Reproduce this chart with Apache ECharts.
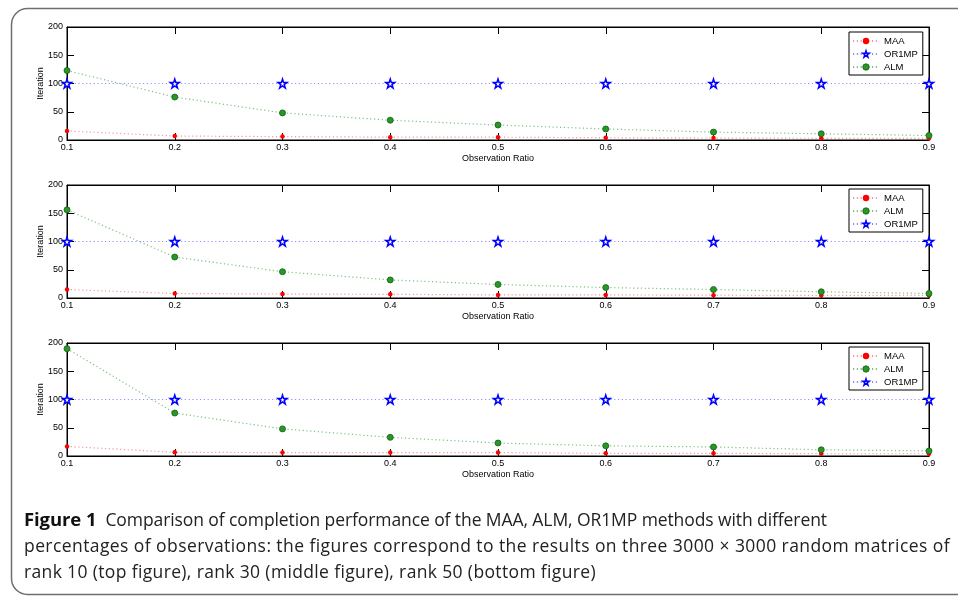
<!DOCTYPE html>
<html>
<head>
<meta charset="utf-8">
<script src="https://cdn.jsdelivr.net/npm/echarts@6/dist/echarts.min.js"></script>
<style>
  html, body { margin: 0; padding: 0; background: #fff; }
  #wrap { position: relative; width: 958px; height: 596px; overflow: hidden; }
  #chart { position: absolute; left: 0; top: 0; width: 958px; height: 596px; }
  #caption { position: absolute; left: 24px; top: 506px; font-family: "Open Sans", Lato, sans-serif;
             font-size: 17.5px; line-height: 26px; color: #222; white-space: nowrap;
             font-variant-ligatures: none; }
  #caption span { display: inline-block; }
  #caption b { font-weight: 700; color: #111; margin-right: 9px; font-size: 18.5px; }
</style>
</head>
<body>
<div id="wrap">
  <div id="chart"></div>
  <div id="caption"><span data-w="803"><b>Figure 1</b>Comparison of completion performance of the MAA, ALM, OR1MP methods with different</span><br><span data-w="926">percentages of observations: the figures correspond to the results on three 3000 × 3000 random matrices of</span><br><span data-w="572">rank 10 (top figure), rank 30 (middle figure), rank 50 (bottom figure)</span></div>
</div>
<script>
// ---- data ----
const ratios = ['0.1', '0.2', '0.3', '0.4', '0.5', '0.6', '0.7', '0.8', '0.9'];
const yTicks = [0, 50, 100, 150, 200];

// rank 10 (top)
const maa10 = [16, 7, 6, 5, 5, 4, 3.5, 3, 3];
const or1mp10 = [100, 100, 100, 100, 100, 100, 100, 100, 100];
const alm10 = [123, 76, 48, 35, 26.5, 19.5, 14, 11, 8];

// rank 30 (middle)
const maa30 = [15, 8, 7, 6.5, 5.5, 5.5, 5, 4.5, 4.5];
const alm30 = [156, 72.5, 46.5, 32, 24, 18.5, 15, 11, 8];
const or1mp30 = [100, 100, 100, 100, 100, 100, 100, 100, 100];

// rank 50 (bottom)
const maa50 = [17, 6.5, 6, 6, 6, 4.7, 4.7, 4, 4];
const alm50 = [190, 76, 48, 33, 23, 18, 16, 11, 9];
const or1mp50 = [100, 100, 100, 100, 100, 100, 100, 100, 100];

const legendOrders = [['MAA', 'OR1MP', 'ALM'], ['MAA', 'ALM', 'OR1MP'], ['MAA', 'ALM', 'OR1MP']];
const panels = [
  { maa: maa10, alm: alm10, or: or1mp10 },
  { maa: maa30, alm: alm30, or: or1mp30 },
  { maa: maa50, alm: alm50, or: or1mp50 }
];

// ---- caption fitting (keeps real text, only spacing adjusted) ----
document.querySelectorAll('#caption span').forEach(s => {
  const target = parseFloat(s.getAttribute('data-w'));
  const w = s.getBoundingClientRect().width;
  const n = s.textContent.length;
  if (n > 1) s.style.letterSpacing = ((target - w) / n).toFixed(3) + 'px';
});

// ---- layout / styles ----
const FONT = '"Liberation Sans", Arial, sans-serif';
const gridTops = [27, 185, 343];
const legendTops = [32, 189, 347];
const GRID_LEFT = 67, GRID_W = 862, GRID_H = 113;
const STAR = 'path://M50,2 L61.2,36.2 L97.6,36.2 L68.2,57.4 L79.4,91.6 L50,70.4 L20.6,91.6 L31.8,57.4 L2.4,36.2 L38.8,36.2 Z';

const chart = echarts.init(document.getElementById('chart'), null, { renderer: 'canvas' });

const styles = {
  MAA: { symbol: 'circle', symbolSize: 4.5, itemStyle: { color: '#ff0000' }, line: 'rgba(255,60,60,0.55)' },
  OR1MP: { symbol: STAR, symbolSize: 9, itemStyle: { color: '#ffffff', borderColor: '#0000ff', borderWidth: 1.5 }, line: 'rgba(70,70,255,0.6)' },
  ALM: { symbol: 'circle', symbolSize: 6, itemStyle: { color: '#2a962a', borderColor: '#0b630b', borderWidth: 0.8 }, line: 'rgba(40,150,40,0.6)' }
};

const grids = [], xAxes = [], yAxes = [], series = [], legends = [];
gridTops.forEach((top, i) => {
  grids.push({ left: GRID_LEFT, top: top, width: GRID_W, height: GRID_H, show: true,
               borderColor: '#000', borderWidth: 1, backgroundColor: 'transparent' });
  const tick = () => ({ show: true, inside: true, length: 7, lineStyle: { color: '#000', width: 1 } });
  const line = () => ({ show: true, onZero: false, lineStyle: { color: '#000', width: 1 } });
  xAxes.push({
    type: 'category', gridIndex: i, data: ratios, boundaryGap: false, position: 'bottom',
    axisLine: line(), axisTick: tick(),
    axisLabel: { color: '#000', fontSize: 9, fontFamily: FONT, margin: 3 },
    name: 'Observation Ratio', nameLocation: 'middle', nameGap: 14, nameMoveOverlap: false,
    nameTextStyle: { color: '#000', fontSize: 9, fontFamily: FONT },
    splitLine: { show: false }
  });
  xAxes.push({
    type: 'category', gridIndex: i, data: ratios, boundaryGap: false, position: 'top',
    axisLine: line(), axisTick: tick(),
    axisLabel: { show: false }, splitLine: { show: false }
  });
  yAxes.push({
    type: 'value', gridIndex: i, min: 0, max: 200, interval: 50, position: 'left',
    axisLine: line(), axisTick: tick(),
    axisLabel: { color: '#000', fontSize: 9, fontFamily: FONT, margin: 4,
                 formatter: v => (yTicks.indexOf(v) >= 0 ? String(v) : '') },
    name: 'Iteration', nameLocation: 'middle', nameGap: 22, nameRotate: 90, nameMoveOverlap: false,
    nameTextStyle: { color: '#000', fontSize: 9, fontFamily: FONT },
    splitLine: { show: false }
  });
  yAxes.push({
    type: 'value', gridIndex: i, min: 0, max: 200, interval: 50, position: 'right',
    axisLine: line(), axisTick: tick(),
    axisLabel: { show: false }, splitLine: { show: false }
  });

  const p = panels[i];
  const dataMap = { MAA: p.maa, ALM: p.alm, OR1MP: p.or };
  ['MAA', 'ALM', 'OR1MP'].forEach(name => {
    const d = styles[name];
    series.push({
      type: 'line', name: name, xAxisIndex: i * 2, yAxisIndex: i * 2, data: dataMap[name],
      symbol: d.symbol, symbolSize: d.symbolSize, showSymbol: true, showAllSymbol: true,
      itemStyle: d.itemStyle, animation: false, silent: true,
      lineStyle: { color: d.line, width: 1.2, type: [1.2, 2.6] },
      z: name === 'OR1MP' ? 4 : 3
    });
  });

  legends.push({
    data: legendOrders[i].map(n => ({ name: n, itemStyle: styles[n].itemStyle })),
    left: 849, top: legendTops[i], orient: 'vertical',
    padding: [4, 5, 3, 3], itemGap: 3, itemWidth: 26, itemHeight: 8,
    borderColor: '#000', borderWidth: 1, backgroundColor: '#fff', borderRadius: 0,
    textStyle: { color: '#000', fontSize: 9.5, fontFamily: FONT },
    selectedMode: false
  });
});

chart.setOption({
  animation: false,
  backgroundColor: 'transparent',
  grid: grids,
  xAxis: xAxes,
  yAxis: yAxes,
  legend: legends,
  series: series,
  graphic: [{
    type: 'rect', left: 9, top: 6, silent: true, z: -10,
    shape: { x: 0, y: 0, width: 980, height: 586, r: 16 },
    style: { fill: 'none', stroke: '#6f6f6f', lineWidth: 1.5 }
  }]
});
</script>
</body>
</html>
